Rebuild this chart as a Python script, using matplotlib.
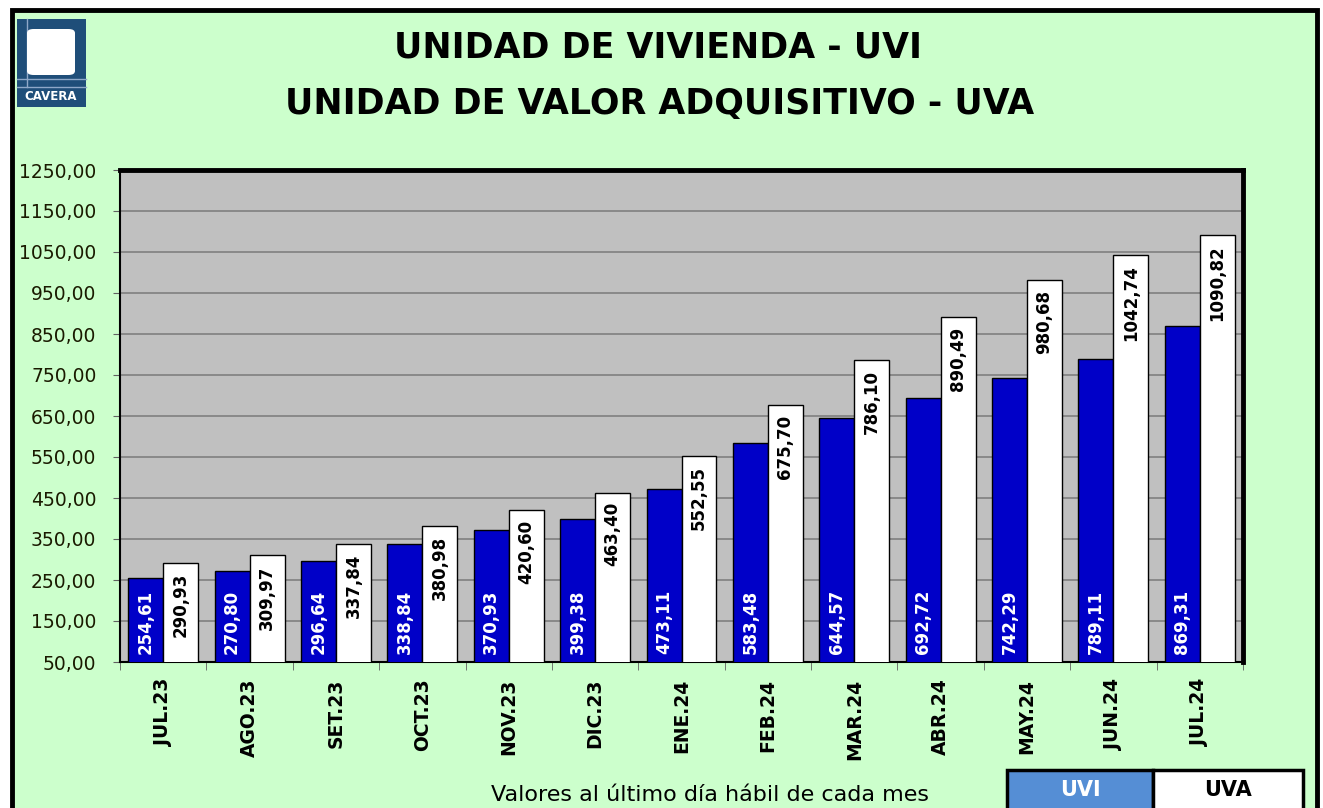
import numpy as np
import matplotlib.pyplot as plt
from matplotlib.patches import Rectangle, FancyBboxPatch
from matplotlib.lines import Line2D

months = ["JUL.23", "AGO.23", "SET.23", "OCT.23", "NOV.23", "DIC.23", "ENE.24",
          "FEB.24", "MAR.24", "ABR.24", "MAY.24", "JUN.24", "JUL.24"]
uvi = [254.61, 270.80, 296.64, 338.84, 370.93, 399.38, 473.11,
       583.48, 644.57, 692.72, 742.29, 789.11, 869.31]
uva = [290.93, 309.97, 337.84, 380.98, 420.60, 463.40, 552.55,
       675.70, 786.10, 890.49, 980.68, 1042.74, 1090.82]

W, H = 1323, 808
fig = plt.figure(figsize=(W/100, H/100), dpi=100)
fig.patch.set_facecolor("white")

def px(x0, y0, w, h):
    # pixel box (top-left origin) -> figure fraction
    return (x0/W, 1-(y0+h)/H, w/W, h/H)

# green background with black frame
bx = px(12, 10, 1305, 820)
fig.patches.append(Rectangle(bx[:2], bx[2], bx[3], transform=fig.transFigure,
                             facecolor="#CCFFCC", edgecolor="black", lw=3.5, zorder=-10))

# logo
lg = px(17, 19, 69, 88)
fig.patches.append(Rectangle(lg[:2], lg[2], lg[3], transform=fig.transFigure,
                             facecolor="#1F4E79", edgecolor="none", zorder=1))
inner = px(27, 29, 48, 46)
fig.patches.append(FancyBboxPatch(inner[:2], inner[2], inner[3], transform=fig.transFigure,
                                  boxstyle="round,pad=0,rounding_size=0.005",
                                  facecolor="white", edgecolor="none", zorder=2))
for (xa, ya, xb, yb) in [(17, 87, 86, 87), (27, 19, 27, 87), (17, 79, 86, 79)]:
    fig.lines.append(Line2D([xa/W, xb/W], [1-ya/H, 1-yb/H], transform=fig.transFigure,
                            color="#8FA8C8", lw=1, zorder=2))
fig.text(51/W, 1-97/H, "CAVERA", color="white", fontsize=8.5, fontweight="bold",
         ha="center", va="center", zorder=3)

fig.text(658/W, 1-48/H, "UNIDAD DE VIVIENDA - UVI", fontsize=25, fontweight="bold",
         ha="center", va="center")
fig.text(660/W, 1-104/H, "UNIDAD DE VALOR ADQUISITIVO - UVA", fontsize=25,
         fontweight="bold", ha="center", va="center")

ax = fig.add_axes(px(120, 170, 1123, 492))
ax.set_facecolor("#C0C0C0")
x = np.arange(len(months))
bw = 0.405
ax.bar(x - bw/2, uvi, bw, color="#0000C8", edgecolor="black", lw=1, zorder=3)
ax.bar(x + bw/2, uva, bw, color="white", edgecolor="black", lw=1, zorder=3)

def fmt(v):
    return f"{v:.2f}".replace(".", ",")

for i in range(len(months)):
    ax.annotate(fmt(uvi[i]), (x[i] - bw/2, 50), xytext=(0, 6), textcoords="offset points",
                rotation=90, ha="center", va="bottom", color="white",
                fontsize=12, fontweight="bold", zorder=4)
    ax.annotate(fmt(uva[i]), (x[i] + bw/2, uva[i]), xytext=(0, -7), textcoords="offset points",
                rotation=90, ha="center", va="top", color="black",
                fontsize=12, fontweight="bold", zorder=4)

ax.set_ylim(50, 1250)
ax.set_yticks(np.arange(50, 1251, 100))
ax.set_yticklabels([fmt(v) for v in np.arange(50, 1251, 100)], fontsize=13.5, color="#1a1a00")
ax.yaxis.grid(True, color="#808080", lw=1.2, zorder=0)
ax.set_axisbelow(True)
ax.set_xlim(-0.5, len(months) - 0.5)
ax.set_xticks(x)
ax.set_xticklabels(months, rotation=90, fontsize=13.5, fontweight="bold")
ax.tick_params(axis="x", length=0, pad=12)
ax.set_xticks(np.arange(-0.5, len(months)), minor=True)
ax.tick_params(axis="x", which="minor", length=6, color="#606060")
ax.tick_params(axis="y", length=5, color="#606060", pad=12)
for s in ["top", "right"]:
    ax.spines[s].set_linewidth(3.5)
for s in ["left", "bottom"]:
    ax.spines[s].set_linewidth(1.5)

fig.text(710/W, 1-795/H, "Valores al último día hábil de cada mes", fontsize=16,
         ha="center", va="center")

# legend
l1 = px(1007, 770, 146, 45)
l2 = px(1153, 770, 150, 45)
fig.patches.append(Rectangle(l1[:2], l1[2], l1[3], transform=fig.transFigure,
                             facecolor="#558ED5", edgecolor="black", lw=2.5, zorder=3))
fig.patches.append(Rectangle(l2[:2], l2[2], l2[3], transform=fig.transFigure,
                             facecolor="white", edgecolor="black", lw=2.5, zorder=3))
fig.text(1080/W, 1-790/H, "UVI", color="white", fontsize=15, fontweight="bold",
         ha="center", va="center", zorder=4)
fig.text(1228/W, 1-790/H, "UVA", color="black", fontsize=15, fontweight="bold",
         ha="center", va="center", zorder=4)

fig.savefig("out.png", dpi=100)
